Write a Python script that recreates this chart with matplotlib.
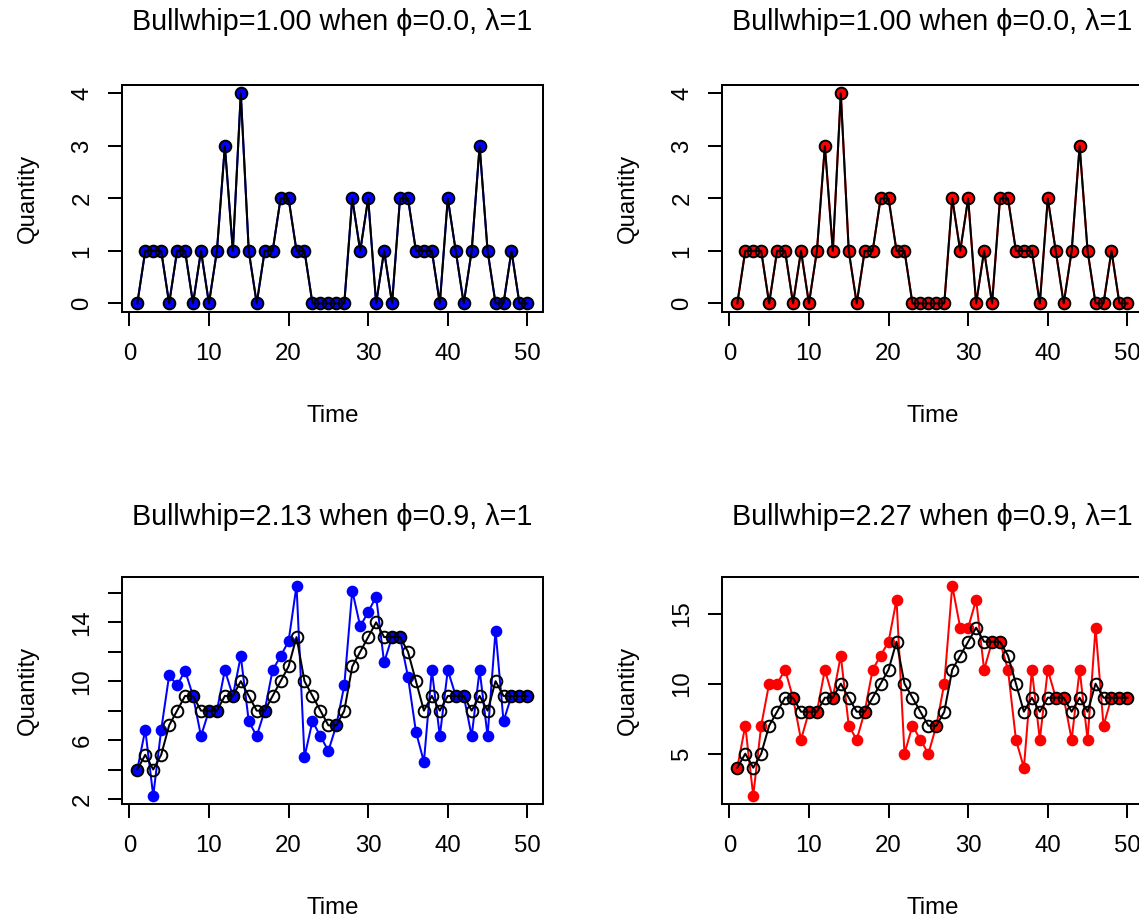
import matplotlib
matplotlib.use("Agg")
import matplotlib.pyplot as plt
import numpy as np

plt.rcParams['font.family'] = ['Liberation Sans', 'DejaVu Sans']

time = list(range(1, 51))

demand = [0, 1, 1, 1, 0, 1, 1, 0, 1, 0, 1, 3, 1, 4, 1, 0, 1, 1, 2, 2,
          1, 1, 0, 0, 0, 0, 0, 2, 1, 2, 0, 1, 0, 2, 2, 1, 1, 1, 0, 2,
          1, 0, 1, 3, 1, 0, 0, 1, 0, 0]

demand_ar = [4, 5, 4, 5, 7, 8, 9, 9, 8, 8, 8, 9, 9, 10, 9, 8, 8, 9, 10, 11,
             13, 10, 9, 8, 7, 7, 8, 11, 12, 13, 14, 13, 13, 13, 12, 10, 8, 9, 8, 9,
             9, 9, 8, 9, 8, 10, 9, 9, 9, 9]

orders_blue = [4, 6.7, 2.22, 6.7, 10.4, 9.71, 10.72, 9, 6.27, 8,
               8, 10.76, 9, 11.7, 7.28, 6.27, 8, 10.76, 11.7, 12.72,
               16.49, 4.85, 7.28, 6.27, 5.26, 7, 9.71, 16.16, 13.73, 14.7,
               15.75, 11.28, 13, 13, 10.3, 6.56, 4.52, 10.76, 6.27, 10.76,
               9, 9, 6.27, 10.76, 6.27, 13.44, 7.28, 9, 9, 9]

orders_red = [4, 7, 2, 7, 10, 10, 11, 9, 6, 8,
              8, 11, 9, 12, 7, 6, 8, 11, 12, 13,
              16, 5, 7, 6, 5, 7, 10, 17, 14, 14,
              16, 11, 13, 13, 11, 6, 4, 11, 6, 11,
              9, 9, 6, 11, 6, 14, 7, 9, 9, 9]

titles = ["Bullwhip=1.00 when \u03d5=0.0, \u03bb=1",
          "Bullwhip=1.00 when \u03d5=0.0, \u03bb=1",
          "Bullwhip=2.13 when \u03d5=0.9, \u03bb=1",
          "Bullwhip=2.27 when \u03d5=0.9, \u03bb=1"]

W, H = 1139, 922
DPI = 100
fig = plt.figure(figsize=(W / DPI, H / DPI), dpi=DPI)

TICK_FS = 17.3
TITLE_FS = 20.7
LW = 1.45

def px_axes(x0, y_top, w, h):
    return fig.add_axes([x0 / W, 1 - (y_top + h) / H, w / W, h / H])

panels = [
    dict(x0=121.7, ytop=85.0, series=demand, black=demand, color='blue',
         yticks=[0, 1, 2, 3, 4], ylabels=['0', '1', '2', '3', '4']),
    dict(x0=721.7, ytop=85.0, series=demand, black=demand, color='red',
         yticks=[0, 1, 2, 3, 4], ylabels=['0', '1', '2', '3', '4']),
    dict(x0=121.7, ytop=577.3, series=orders_blue, black=demand_ar, color='blue',
         yticks=[2, 4, 6, 8, 10, 12, 14, 16],
         ylabels=['2', '', '6', '', '10', '', '14', '']),
    dict(x0=721.7, ytop=577.3, series=orders_red, black=demand_ar, color='red',
         yticks=[5, 10, 15], ylabels=['5', '10', '15']),
]

for i, p in enumerate(panels):
    ax = px_axes(p['x0'], p['ytop'], 421.3, 226.8)
    ax.plot(time, p['series'], '-', color=p['color'], lw=LW, zorder=2)
    ax.plot(time, p['series'], 'o', color=p['color'], ms=8.4, mew=0, zorder=3)
    ax.plot(time, p['black'], '-', color='black', lw=LW, zorder=4)
    ax.plot(time, p['black'], 'o', mfc='none', mec='black', ms=8.4, mew=1.4, zorder=5)

    lo = min(min(p['series']), min(p['black']))
    hi = max(max(p['series']), max(p['black']))
    r = hi - lo
    ax.set_ylim(lo - 0.04 * r, hi + 0.04 * r)
    ax.set_xlim(1 - 0.04 * 49, 50 + 0.04 * 49)

    ax.set_xticks([0, 10, 20, 30, 40, 50])
    ax.set_yticks(p['yticks'])
    ax.set_yticklabels(p['ylabels'])
    ax.tick_params(axis='both', direction='out', length=10.4, width=LW,
                   labelsize=TICK_FS, color='black')
    ax.tick_params(axis='x', pad=12.0)
    ax.tick_params(axis='y', pad=10.0, labelrotation=90)
    for lab in ax.get_yticklabels():
        lab.set_va('center')
    for s in ax.spines.values():
        s.set_linewidth(LW)

    ax.set_xlabel('Time', fontsize=TICK_FS, va='center')
    ax.xaxis.set_label_coords(0.5, -0.46)
    ax.set_ylabel('Quantity', fontsize=TICK_FS, va='center')
    ax.yaxis.set_label_coords(-0.222, 0.5)

    cx = p['x0'] + 421.3 / 2
    cy = 22 if i < 2 else 517
    fig.text(cx / W, 1 - cy / H, titles[i], fontsize=TITLE_FS,
             ha='center', va='center')

fig.savefig('out.png', dpi=DPI, facecolor='white')
